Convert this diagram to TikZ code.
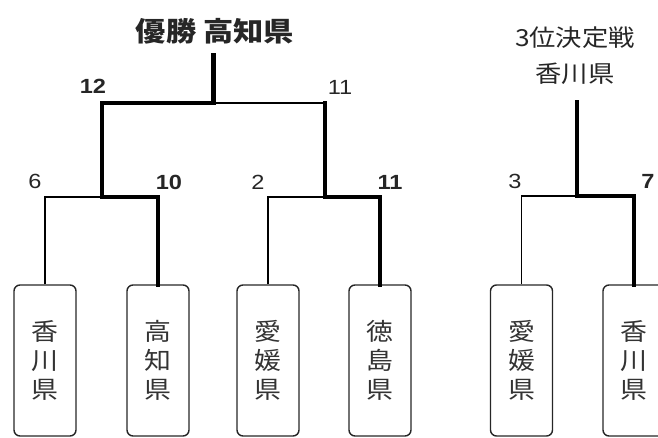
\documentclass[tikz,border=0pt]{standalone}
\usepackage{fontspec}
\setmainfont{Liberation Sans}
\newfontfamily\numfont[FakeStretch=1.15]{Liberation Sans}
\newfontfamily\jp[FakeStretch=1.12]{Noto Sans CJK JP}
\begin{document}
\begin{tikzpicture}[x=1pt,y=-1pt,
  team/.style={draw=black!85, line width=1.4pt, rounded corners=6pt, minimum width=62pt, minimum height=151pt, inner sep=0pt, align=center, text=black!80, font=\jp\fontsize{24}{29}\selectfont},
  lose/.style={line width=1.4pt, black},
  win/.style={line width=4.6pt, black, line join=miter, line cap=rect},
  num/.style={font=\numfont\fontsize{20.5}{22}\selectfont, text=black!85, inner sep=0pt},
  numb/.style={num, font=\numfont\bfseries\fontsize{20.5}{22}\selectfont},
  title/.style={font=\jp\fontsize{23.5}{36}\selectfont, text=black!85, align=center, inner sep=0pt}]
\useasboundingbox (0,0) rectangle (658,438);
% teams
\node[team] (b1) at (45,360.5) {香\\川\\県};
\node[team] (b2) at (158,360.5) {高\\知\\県};
\node[team] (b3) at (268,360.5) {愛\\媛\\県};
\node[team] (b4) at (380,360.5) {徳\\島\\県};
\node[team] (b5) at (521.5,360.5) {愛\\媛\\県};
\node[team] (b6) at (634,360.5) {香\\川\\県};
% junctions
\coordinate (j1) at (102,197);
\coordinate (j2) at (325,197);
\coordinate (top) at (213.5,103);
\coordinate (r2top) at (325,103);
\coordinate (champ) at (213.5,55);
\coordinate (j3) at (577,196);
\coordinate (third) at (577,102);
% titles
\node[title, font=\jp\bfseries\fontsize{27}{30}\selectfont] (t1) at (215,31) {優勝 高知県};
\node[title] (t2) at (575,56) {3位決定戦\\香川県};
% scores
\node[numb] (s12) at (93,86) {12};
\node[num] (s11a) at (340,87) {11};
\node[num] (s6) at (35,181) {6};
\node[numb] (s10) at (169,182) {10};
\node[num] (s2) at (258,182) {2};
\node[numb] (s11b) at (390,182) {11};
\node[num] (s3) at (515,181) {3};
\node[numb] (s7) at (648,181) {7};
% losing lines
\draw[lose] (b1.north) |- (j1);
\draw[lose] (b3.north) |- (j2);
\draw[lose] (top) -- (r2top);
\draw[lose] (b5.north) |- (j3);
% winning lines
\draw[win] (b2.north) |- (j1) |- (top) -- (champ);
\draw[win] (b4.north) |- (j2) -- (r2top);
\draw[win] (b6.north) |- (j3) -- (third);
\end{tikzpicture}
\end{document}
